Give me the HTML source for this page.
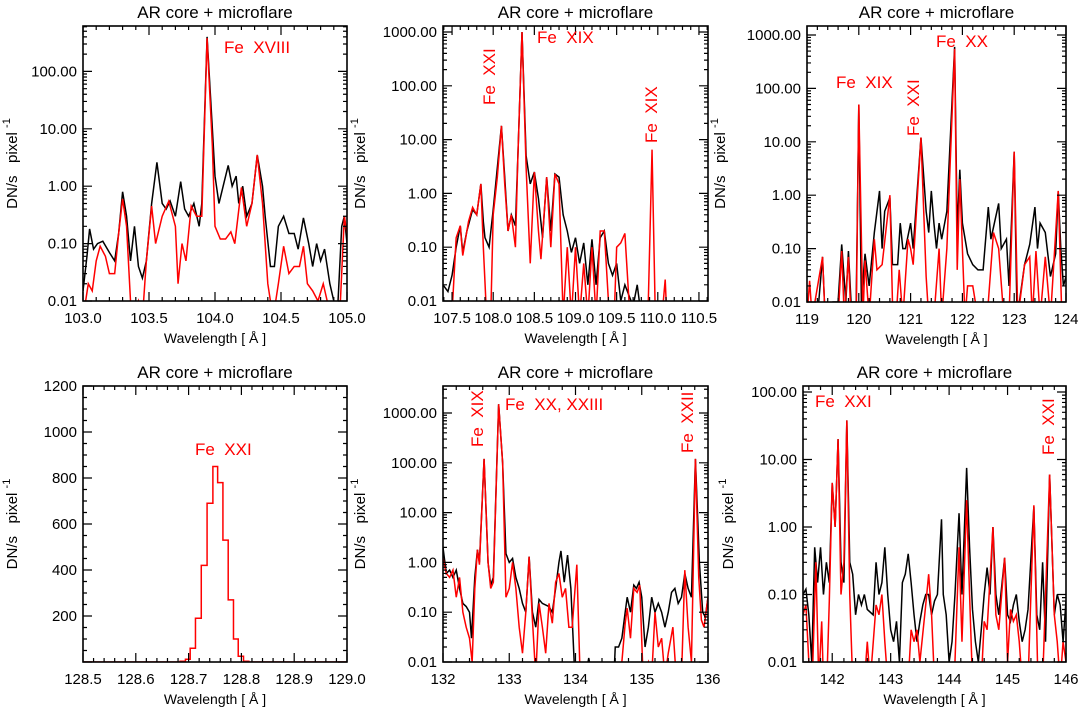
<!DOCTYPE html>
<html><head><meta charset="utf-8"><style>
html,body{margin:0;padding:0;background:#fff}
svg{display:block}
text{font-family:"Liberation Sans",sans-serif;white-space:pre}
</style></head><body>
<svg id="fig" width="1084" height="710" viewBox="0 0 1084 710" xmlns="http://www.w3.org/2000/svg"></svg>
<script>
// ---------- data ----------
const p1BlackWave=[103.0,103.03,103.05,103.08,103.11,103.15,103.2,103.24,103.27,103.3,103.33,103.36,103.39,103.42,103.45,103.48,103.52,103.56,103.6,103.63,103.66,103.7,103.74,103.77,103.8,103.84,103.88,103.9,103.94,103.98,104.0,104.03,104.07,104.1,104.13,104.16,104.18,104.21,104.24,104.28,104.32,104.36,104.38,104.42,104.45,104.48,104.52,104.56,104.6,104.63,104.67,104.71,104.74,104.77,104.8,104.83,104.87,104.9,104.93,104.96,104.98,105.0];
const p1BlackVal=[0.015,0.06,0.18,0.08,0.1,0.11,0.07,0.05,0.15,0.8,0.3,0.05,0.2,0.04,0.025,0.05,0.5,2.6,0.5,0.4,0.55,0.3,1.2,0.4,0.3,0.5,0.2,0.5,400,10,1.5,0.5,1.2,2.3,1.0,1.5,0.5,1.0,0.3,0.5,3.5,1.0,0.3,0.04,0.04,0.2,0.3,0.15,0.15,0.08,0.28,0.1,0.04,0.1,0.05,0.08,0.02,0.01,0.008,0.2,0.3,0.1];
const p1RedWave=[103.0,103.04,103.07,103.1,103.13,103.17,103.2,103.24,103.27,103.3,103.33,103.36,103.38,103.42,103.45,103.48,103.52,103.55,103.6,103.65,103.7,103.72,103.75,103.78,103.82,103.86,103.9,103.94,103.98,104.0,104.04,104.08,104.12,104.15,104.2,104.24,104.28,104.32,104.36,104.4,104.44,104.48,104.52,104.56,104.6,104.64,104.67,104.7,104.74,104.78,104.82,104.85,104.9,104.95,104.98,105.0];
const p1RedVal=[0.005,0.02,0.015,0.05,0.09,0.06,0.03,0.03,0.15,0.6,0.2,0.01,0.005,0.01,0.005,0.05,0.45,0.1,0.3,0.55,0.2,0.02,0.1,0.05,0.45,0.3,0.3,380,5,0.2,0.12,0.12,0.16,0.1,0.95,0.2,0.5,3.5,0.5,0.02,0.005,0.02,0.09,0.03,0.04,0.04,0.09,0.02,0.015,0.01,0.02,0.01,0.005,0.01,0.3,0.15];

const p2BlackWave=[107.39,107.45,107.5,107.55,107.6,107.63,107.68,107.75,107.8,107.85,107.88,107.9,107.95,108.0,108.05,108.1,108.14,108.18,108.22,108.27,108.3,108.35,108.4,108.45,108.5,108.55,108.6,108.65,108.7,108.75,108.8,108.85,108.9,108.95,109.0,109.05,109.1,109.15,109.2,109.25,109.3,109.35,109.4,109.45,109.5,109.55,109.6,109.7,109.75,109.8,110.61];
const p2BlackVal=[0.02,0.015,0.03,0.1,0.25,0.08,0.2,0.5,0.4,1.5,0.3,0.15,0.1,0.5,3,18,2,0.2,0.4,0.25,5,1000,5,1.5,2.5,0.8,0.15,2,0.2,2.3,2,0.4,0.2,0.08,0.15,0.05,0.12,0.02,0.14,0.02,0.15,0.2,0.05,0.03,0.05,0.01,0.02,0.008,0.02,0.005,0.005];
const p2RedWave=[107.39,107.5,107.55,107.6,107.63,107.7,107.75,107.8,107.85,107.88,107.92,107.97,108.0,108.05,108.1,108.14,108.18,108.22,108.27,108.3,108.35,108.4,108.45,108.5,108.55,108.58,108.65,108.7,108.75,108.8,108.85,108.9,108.95,109.0,109.05,109.1,109.15,109.2,109.25,109.3,109.35,109.4,109.47,109.5,109.55,109.6,109.65,109.7,109.88,109.93,109.97,110.05,110.09,110.11,110.61];
const p2RedVal=[0.005,0.006,0.15,0.25,0.07,0.3,0.55,0.4,1.5,0.1,0.005,0.005,0.4,2,18,1.5,0.2,0.4,0.1,5,1000,3,0.05,2.5,0.2,0.06,2,0.1,2.3,1.5,0.005,0.1,0.005,0.1,0.005,0.05,0.005,0.1,0.005,0.2,0.2,0.01,0.005,0.1,0.12,0.18,0.01,0.005,0.005,6.5,0.005,0.005,0.025,0.005,0.005];

const p3BlackWave=[119,119.2,119.3,119.35,119.5,119.6,119.67,119.75,119.8,119.85,119.95,120.0,120.05,120.12,120.2,120.3,120.4,120.45,120.5,120.6,120.65,120.75,120.8,120.85,120.9,121.0,121.05,121.2,121.3,121.35,121.4,121.45,121.5,121.55,121.6,121.7,121.85,121.9,121.95,122.0,122.1,122.2,122.3,122.4,122.5,122.55,122.7,122.75,122.85,122.9,123.0,123.05,123.1,123.2,123.3,123.4,123.45,123.5,123.6,123.7,123.8,123.85,123.9,123.95,124];
const p3BlackVal=[0.005,0.005,0.07,0.005,0.01,0.01,0.12,0.01,0.09,0.01,0.01,50,0.01,0.08,0.02,0.2,1.2,0.1,0.5,0.9,0.05,0.05,0.3,0.1,0.1,0.3,0.1,12,0.5,0.2,1.2,0.3,0.1,0.3,0.15,0.5,600,0.2,3,0.3,0.08,0.05,0.04,0.04,0.6,0.15,0.7,0.1,0.15,0.02,6.5,0.01,0.01,0.05,0.12,0.6,0.1,0.3,0.2,0.03,0.08,1.2,0.1,0.02,0.03];
const p3RedWave=[119,119.05,119.1,119.3,119.35,119.6,119.67,119.72,119.8,119.85,119.95,120.0,120.08,120.12,120.2,120.3,120.35,120.45,120.6,120.65,120.72,120.78,120.85,120.95,121.0,121.05,121.2,121.3,121.35,121.45,121.55,121.6,121.7,121.85,121.9,121.95,122.0,122.05,122.1,122.2,122.3,122.5,122.6,122.7,122.8,122.9,123.0,123.07,123.2,123.3,123.35,123.42,123.5,123.6,123.7,123.85,123.92,123.98,124];
const p3RedVal=[0.005,0.025,0.005,0.07,0.005,0.005,0.09,0.005,0.07,0.005,0.005,50,0.005,0.06,0.005,0.15,0.04,0.05,1.0,0.01,0.005,0.04,0.005,0.15,0.1,0.05,12,0.03,0.005,0.005,0.1,0.005,0.1,550,0.04,2,0.1,0.005,0.02,0.02,0.005,0.01,0.2,0.1,0.005,0.005,6.5,0.005,0.05,0.07,0.005,0.09,0.005,0.07,0.005,1.2,0.005,0.01,0.005];

const p4BinWave=[128.50,128.684,128.694,128.703,128.713,128.724,128.735,128.746,128.755,128.765,128.775,128.785,128.794,128.804,128.814,129.0];
const p4RedVal=[0,3,12,60,190,420,690,850,780,530,270,100,25,3,0,0];

const p5BlackWave=[132.0,132.05,132.1,132.15,132.2,132.25,132.3,132.35,132.4,132.43,132.48,132.52,132.55,132.62,132.68,132.72,132.76,132.84,132.9,132.95,133.0,133.05,133.1,133.15,133.2,133.25,133.3,133.35,133.4,133.45,133.5,133.6,133.65,133.7,133.75,133.78,133.83,133.88,133.93,133.98,134.05,134.15,134.2,134.25,134.58,134.6,134.65,134.7,134.75,134.78,134.83,134.88,134.92,134.96,135.0,135.05,135.1,135.15,135.2,135.25,135.3,135.35,135.4,135.45,135.5,135.55,135.6,135.65,135.7,135.75,135.81,135.87,135.92,135.96,136.0];
const p5BlackVal=[2,0.6,0.7,0.5,0.7,0.3,0.15,0.13,0.1,0.03,0.5,1.8,1,120,1,0.35,0.5,1500,100,1.5,1.0,1.2,0.5,0.3,0.15,0.1,1.3,0.1,0.05,0.18,0.15,0.13,0.1,0.3,1.0,1.7,0.4,1.4,0.3,0.01,0.005,0.005,0.012,0.005,0.005,0.02,0.02,0.03,0.1,0.2,0.1,0.35,0.3,0.4,0.2,0.02,0.05,0.2,0.1,0.15,0.1,0.05,0.1,0.25,0.3,0.15,0.2,0.6,0.3,0.2,120,1,0.1,0.08,0.2];
const p5RedWave=[132.0,132.05,132.1,132.15,132.2,132.25,132.3,132.35,132.4,132.44,132.48,132.52,132.55,132.62,132.68,132.72,132.76,132.84,132.9,132.95,133.0,133.05,133.1,133.15,133.2,133.25,133.3,133.35,133.4,133.45,133.5,133.55,133.6,133.65,133.7,133.75,133.8,133.85,133.9,133.95,134.02,134.07,134.6,134.7,134.75,134.78,134.83,134.88,134.93,134.97,135.02,135.1,135.15,135.2,135.25,135.3,135.35,135.4,135.47,135.52,135.6,135.65,135.7,135.75,135.81,135.86,135.9,135.94,136.0];
const p5RedVal=[1.2,0.6,0.5,0.7,0.2,0.5,0.1,0.05,0.03,0.01,0.3,1.8,0.9,120,1,0.3,0.4,1500,100,0.2,0.3,1.0,0.3,0.05,0.015,0.1,1.3,0.07,0.005,0.15,0.05,0.015,0.15,0.06,0.4,0.6,0.2,0.3,0.05,0.05,0.9,0.005,0.005,0.01,0.06,0.12,0.03,0.3,0.25,0.35,0.005,0.01,0.005,0.1,0.02,0.03,0.005,0.015,0.05,0.005,0.005,0.7,0.05,0.01,120,0.5,0.07,0.05,0.2];

const p6BlackWave=[141.5,141.55,141.6,141.65,141.7,141.75,141.8,141.85,141.9,141.95,142.0,142.05,142.1,142.15,142.2,142.25,142.3,142.35,142.4,142.45,142.5,142.55,142.6,142.7,142.75,142.8,142.85,142.9,142.95,143.0,143.05,143.1,143.15,143.2,143.25,143.3,143.35,143.4,143.45,143.5,143.55,143.6,143.65,143.7,143.75,143.8,143.87,143.9,143.95,144.0,144.05,144.1,144.17,144.22,144.3,144.35,144.4,144.45,144.5,144.55,144.6,144.65,144.7,144.75,144.8,144.85,144.95,145.0,145.05,145.1,145.15,145.2,145.25,145.3,145.35,145.45,145.5,145.55,145.6,145.65,145.72,145.8,145.85,145.9,145.95,146.0];
const p6BlackVal=[0.1,0.12,0.05,0.01,0.5,0.15,0.5,0.1,0.3,0.15,4.5,1,20,0.3,0.15,38,0.3,0.2,0.05,0.1,0.07,0.1,0.06,0.05,0.3,0.1,0.15,0.5,0.1,0.03,0.02,0.04,0.01,0.15,0.2,0.4,0.15,0.05,0.02,0.04,0.07,0.1,0.1,0.05,0.08,0.1,1.3,0.1,0.05,0.01,0.02,0.1,1.6,0.1,7.5,0.5,0.06,0.02,0.01,0.03,0.1,0.25,0.1,1.0,0.1,0.05,0.35,0.05,0.04,0.07,0.1,0.04,0.02,0.03,0.06,2,0.05,0.03,0.3,0.02,6,0.05,0.1,0.07,0.02,0.08];
const p6RedWave=[141.5,141.55,141.6,141.65,141.72,141.77,141.82,141.85,141.9,141.95,142.0,142.05,142.1,142.15,142.2,142.25,142.3,142.35,142.55,142.6,142.65,142.75,142.8,142.85,142.9,142.95,143.3,143.35,143.4,143.45,143.5,143.6,143.65,143.7,143.75,144.0,144.1,144.17,144.22,144.3,144.35,144.4,144.55,144.6,144.65,144.75,144.8,144.85,144.95,145.0,145.05,145.1,145.15,145.2,145.25,145.35,145.45,145.52,145.6,145.72,145.8,145.85,145.9,145.95,146.0];
const p6RedVal=[0.05,0.07,0.01,0.003,0.3,0.005,0.04,0.005,0.003,0.08,4.5,1,20,0.1,0.3,38,0.1,0.005,0.005,0.02,0.005,0.07,0.05,0.1,0.02,0.005,0.005,0.03,0.02,0.03,0.01,0.07,0.2,0.05,0.005,0.005,0.01,0.5,0.02,2.5,0.1,0.005,0.005,0.04,0.03,1.0,0.05,0.03,0.35,0.01,0.06,0.04,0.05,0.02,0.005,0.005,2.1,0.005,0.005,6,0.05,0.02,0.005,0.02,0.01];

const logTickLabels=["0.01","0.10","1.00","10.00","100.00","1000.00"];
const linTickLabels=["200","400","600","800","1000","1200"];
const xTicks1=[103.0,103.5,104.0,104.5,105.0];
const xTicks2=[107.5,108.0,108.5,109.0,109.5,110.0,110.5];
const xTicks3=[119,120,121,122,123,124];
const xTicks4=[128.5,128.6,128.7,128.8,128.9,129.0];
const xTicks5=[132,133,134,135,136];
const xTicks6=[142,143,144,145,146];

// ---------- drawing ----------
const NS="http://www.w3.org/2000/svg";
const svg=document.getElementById('fig');
function mk(tag,attrs,parent){const e=document.createElementNS(NS,tag);for(const k in attrs)e.setAttribute(k,attrs[k]);(parent||svg).appendChild(e);return e;}

const panels=[
 {id:1,L:83,R:347,T:26,B:301,x0:103,x1:105,log:true,yb:0.01,dec:57.4,xt:xTicks1,xf:1,xminor:0.1,yMaxLab:4,black:[p1BlackWave,p1BlackVal],red:[p1RedWave,p1RedVal],yl:[12,360]},
 {id:2,L:443,R:708,T:26,B:301,x0:107.39,x1:110.61,log:true,yb:0.01,dec:53.8,xt:xTicks2,xf:1,xminor:0.1,yMaxLab:5,black:[p2BlackWave,p2BlackVal],red:[p2RedWave,p2RedVal],yl:[720]},
 {id:3,L:807,R:1066,T:26,B:302,x0:119,x1:124,log:true,yb:0.01,dec:53.4,xt:xTicks3,xf:0,xminor:0.2,yMaxLab:5,black:[p3BlackWave,p3BlackVal],red:[p3RedWave,p3RedVal],yl:[]},
 {id:4,L:83,R:347,T:386,B:662,x0:128.5,x1:129.0,log:false,ymax:1200,xt:xTicks4,xf:1,xminor:0.02,red:[p4BinWave,p4RedVal],step:true,yl:[12,360]},
 {id:5,L:443,R:708,T:386,B:662,x0:132,x1:136,log:true,yb:0.01,dec:49.8,xt:xTicks5,xf:0,xminor:0.2,yMaxLab:5,black:[p5BlackWave,p5BlackVal],red:[p5RedWave,p5RedVal],yl:[]},
 {id:6,L:803,R:1066,T:386,B:662,x0:141.5,x1:146,log:true,yb:0.01,dec:67.5,xt:xTicks6,xf:0,xminor:0.2,yMaxLab:4,black:[p6BlackWave,p6BlackVal],red:[p6RedWave,p6RedVal],yl:[728]}
];

panels.forEach(p=>{
 const g=mk('g',{});
 
 
 const xs=v=>p.L+(v-p.x0)/(p.x1-p.x0)*(p.R-p.L);
 const ys=p.log?(v=>p.B-Math.log10(Math.max(v,1e-4)/p.yb)*p.dec):(v=>p.B-v/p.ymax*(p.B-p.T));
 const cp=mk('clipPath',{id:'clip'+p.id},g);
 mk('rect',{x:p.L,y:p.T,width:p.R-p.L,height:p.B-p.T},cp);
 const drawSeries=(d,color,name)=>{
  let pts=[];
  if(p.step){
   for(let i=0;i<d[0].length-1;i++){pts.push(xs(d[0][i])+','+ys(d[1][i]));pts.push(xs(d[0][i+1])+','+ys(d[1][i]));}
  } else {
   for(let i=0;i<d[0].length;i++)pts.push(xs(d[0][i]).toFixed(2)+','+ys(d[1][i]).toFixed(2));
  }
  const pl=mk('polyline',{points:pts.join(' '),fill:'none',stroke:color,'stroke-width':1.5,'clip-path':'url(#clip'+p.id+')'},g);
  
  
 };
 if(p.black)drawSeries(p.black,'#000','series-core-'+p.id);
 drawSeries(p.red,'#f00','series-microflare-'+p.id);
 const fr=mk('rect',{x:p.L,y:p.T,width:p.R-p.L,height:p.B-p.T,fill:'none',stroke:'#000','stroke-width':1.6},g);
 
 
 let tk='';
 const nMin=Math.round((p.x1-p.x0)/p.xminor)+2;
 const startMin=Math.ceil(p.x0/p.xminor-1e-6)*p.xminor;
 for(let i=0;i<nMin;i++){const v=startMin+i*p.xminor;if(v>p.x1+1e-6)break;const x=xs(v);tk+=`M${x},${p.B}v-4M${x},${p.T}v4`;}
 p.xt.forEach(v=>{const x=xs(v);tk+=`M${x},${p.B}v-9M${x},${p.T}v9`;
  const t=mk('text',{x:x,y:p.B+22,'font-size':15,'text-anchor':'middle',fill:'#000'},g);t.textContent=v.toFixed(p.xf);
  
  });
 if(p.log){
  for(let k=0;k<=6;k++){const base=p.yb*Math.pow(10,k);
   for(let m=1;m<=9;m++){const y=ys(base*m);if(y<p.T-0.5)break;
    const len=m===1?9:4;tk+=`M${p.L},${y}h${len}M${p.R},${y}h-${len}`;}
   const y=ys(base);
   if(k<=p.yMaxLab&&y>=p.T-1){const t=mk('text',{x:p.L-6,y:y+5,'font-size':15,'text-anchor':'end',fill:'#000'},g);t.textContent=logTickLabels[k];
    
    }
  }
 } else {
  for(let v=0;v<=p.ymax;v+=50){const y=ys(v);const len=v%200===0?9:4;tk+=`M${p.L},${y}h${len}M${p.R},${y}h-${len}`;}
  linTickLabels.forEach((s,i)=>{const y=ys((i+1)*200);const t=mk('text',{x:p.L-6,y:y+5,'font-size':15,'text-anchor':'end',fill:'#000'},g);t.textContent=s;
   
   });
 }
 mk('path',{d:tk,stroke:'#000','stroke-width':1.2,fill:'none'},g);
 const ti=mk('text',{x:(p.L+p.R)/2,y:p.T-8,'font-size':17,'text-anchor':'middle',fill:'#000'},g);ti.textContent='AR core + microflare';
 
 
 const xl=mk('text',{x:(p.L+p.R)/2,y:p.B+42,'font-size':14,'text-anchor':'middle',fill:'#000'},g);xl.textContent='Wavelength [ Å ]';
 
 
 const yc=(p.T+p.B)/2;
 p.yl.forEach((x0,i)=>{
  const x=x0+5;
  const t=mk('text',{x:x,y:yc,'font-size':15,'text-anchor':'middle',fill:'#000',transform:`rotate(-90 ${x} ${yc})`},g);
  t.textContent='DN/s   pixel ';
  const sp=mk('tspan',{dy:-7,'font-size':11},t);sp.textContent='-1';
  
  
 });
});

const notes=[
 [224,53,'Fe XVIII',0],
 [537,43,'Fe XIX',0],[495,105,'Fe XXI',1],[657,143,'Fe XIX',1],
 [836,88,'Fe XIX',0],[919,136,'Fe XXI',1],[936,47,'Fe XX',0],
 [195,455,'Fe XXI',0],
 [483,447,'Fe XIX',1],[505,410,'Fe XX, XXIII',0],[693,453,'Fe XXII',1],
 [815,407,'Fe XXI',0],[1054,455,'Fe XXI',1]
];
notes.forEach(n=>{
 const a={x:n[0],y:n[1],'font-size':17,fill:'#f00'};
 if(n[3])a.transform=`rotate(-90 ${n[0]} ${n[1]})`;
 const t=mk('text',a);t.textContent=n[2].replace(' ','  ');
 
 
});
</script>
</body></html>
